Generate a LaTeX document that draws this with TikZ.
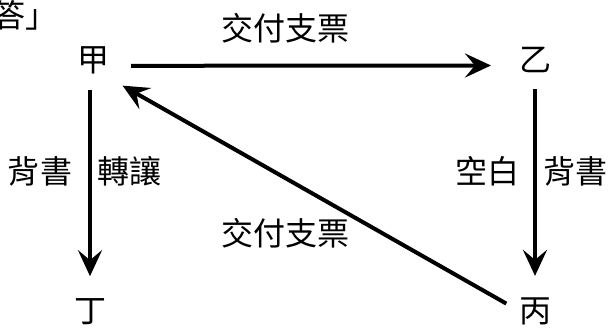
\documentclass[tikz,border=0pt]{standalone}
\usepackage{fontspec}
\setmainfont{Noto Sans CJK TC}
\usetikzlibrary{arrows.meta}
\begin{document}
\begin{tikzpicture}[x=1pt,y=1pt,
  lab/.style={font=\fontsize{32}{34}\selectfont, inner sep=0pt, anchor=base},
  arr/.style={line width=4pt, -{Stealth[length=26pt,width=24pt,inset=10pt]}}]
\fill[white] (0,0) rectangle (612,-327);
\useasboundingbox (0,0) rectangle (612,-327);
\node[lab, anchor=base west] (hdr) at (-7,-27) {答」};
\node[lab] (jia) at (93,-71) {甲};
\node[lab] (yi) at (535,-71) {乙};
\node[lab] (ding) at (90,-322) {丁};
\node[lab] (bing) at (535,-322) {丙};
\node[lab] (t1) at (285,-40) {交付支票};
\node[lab] (t2) at (285,-245) {交付支票};
\node[lab] (l1) at (40,-183) {背書};
\node[lab] (l2) at (129,-183) {轉讓};
\node[lab] (r1) at (487,-183) {空白};
\node[lab] (r2) at (575,-183) {背書};
\draw[arr, shorten <=38pt, shorten >=44pt] ([yshift=-6pt]jia.center) -- ([yshift=-6pt]yi.center);
\draw[arr, shorten <=30pt, shorten >=35pt] (jia.center -| ding.center) -- (ding.center);
\draw[arr, shorten <=30pt, shorten >=35pt] (yi.center) -- (bing.center);
\draw[arr, shorten <=33pt, shorten >=34pt] ([yshift=-9pt]bing.center) -- ([yshift=-9pt]jia.center);
\end{tikzpicture}
\end{document}
